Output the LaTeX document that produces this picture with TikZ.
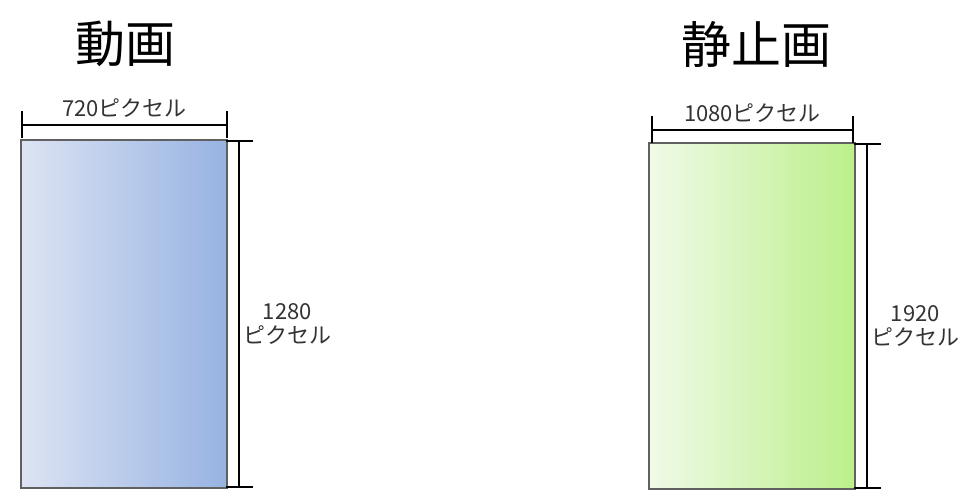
\documentclass[tikz,border=0pt]{standalone}
\usepackage{fontspec}
\setmainfont{Noto Sans CJK JP}
\usetikzlibrary{arrows.meta}
\definecolor{blueL}{HTML}{DDE3F3}
\definecolor{blueR}{HTML}{97B3E2}
\definecolor{greenL}{HTML}{F0FAE8}
\definecolor{greenR}{HTML}{BCEF8B}
\begin{document}
\begin{tikzpicture}[x=1pt,y=-1pt,
	dim/.style={line width=1.8pt,{Bar[width=27pt]}-{Bar[width=27pt]}},
	frame/.style={draw=gray!75!black,line width=1.5pt,minimum width=206pt,inner sep=0pt},
	lbl/.style={font=\fontsize{22}{24}\selectfont,text=black!80,align=center},
	title/.style={font=\fontsize{50}{54}\selectfont}]
	\useasboundingbox (0,0) rectangle (966,492);
	% 動画
	\node[title] (t1) at (125,44) {動画};
	\node[frame,minimum height=348pt,left color=blueL,right color=blueR] (r1) at (124,314) {};
	\coordinate (w1a) at (21,125); \coordinate (w1b) at (228,125);
	\coordinate (h1a) at (239,140); \coordinate (h1b) at (239,488);
	\draw[dim] (w1a) -- (w1b) node[midway,above=3pt,lbl] (l1) {720ピクセル};
	\draw[dim] (h1a) -- (h1b) node[midway,right=0pt,yshift=-10pt,lbl] (l2) {1280\\ピクセル};
	% 静止画
	\node[title] (t2) at (756,44) {静止画};
	\node[frame,minimum height=346pt,left color=greenL,right color=greenR] (r2) at (752,316) {};
	\coordinate (w2a) at (651,130); \coordinate (w2b) at (854,130);
	\coordinate (h2a) at (867,143); \coordinate (h2b) at (867,489);
	\draw[dim] (w2a) -- (w2b) node[midway,above=3pt,lbl] (l3) {1080ピクセル};
	\draw[dim] (h2a) -- (h2b) node[midway,right=0pt,yshift=-10pt,lbl] (l4) {1920\\ピクセル};
\end{tikzpicture}
\end{document}
